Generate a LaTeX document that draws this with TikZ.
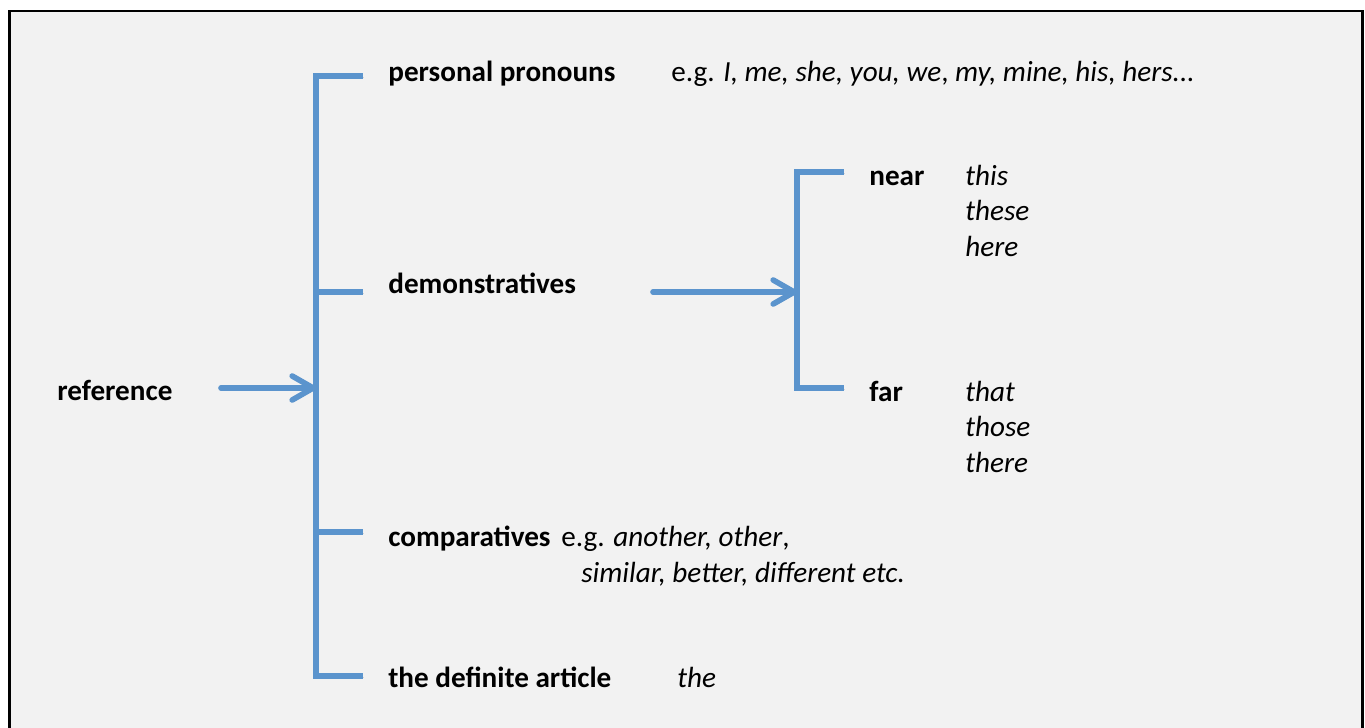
\documentclass[tikz,border=0pt]{standalone}
\usepackage{fontspec}
\setmainfont{Carlito}
\usetikzlibrary{arrows.meta}
\definecolor{bracketblue}{RGB}{91,148,205}
\definecolor{panel}{RGB}{242,242,242}
\newcommand{\diagfont}{\fontsize{16.6}{20}\selectfont}

\begin{document}
\begin{tikzpicture}[x=0.02cm,y=-0.02cm,
    shade line/.style={preaction={draw=black,opacity=0.12,transform canvas={shift={(0.7pt,-1pt)}}}},
    bracket/.style={shade line,bracketblue,line width=3.2pt,line join=miter},
    pointer/.style={shade line,bracketblue,line width=3.2pt,line cap=round,-{Straight Barb[length=4.2mm,width=4.8mm,round]}},
    term/.style={anchor=base west,inner sep=0pt,font=\diagfont\bfseries},
    plain/.style={anchor=base west,inner sep=0pt,font=\diagfont},
    ex/.style={anchor=base west,inner sep=0pt,font=\diagfont\itshape}]
    \useasboundingbox (0,0) rectangle (1365,727);

    % Panel
    \fill[panel,draw=black,line width=1.7pt] (9.5,11) rectangle (1362,760);

    % Left column
    \node[term] (reference) at (57,400) {reference};
    \coordinate (refout) at (221,388);
    \coordinate (mainin) at (316,388);

    % Main bracket
    \draw[bracket] (363,76) -- (316,76) -- (316,676) -- (363,676);
    \draw[bracket] (316,292) -- (363,292);
    \draw[bracket] (316,532) -- (363,532);
    \draw[pointer] (refout) -- (mainin);

    % Kinds of reference
    \node[term] (personal) at (388,81) {personal pronouns};
    \node[plain] (personalex) at (671,81) {e.g. \textit{I, me, she, you, we}, \textit{my, mine, his, hers...}};
    \node[term] (demo) at (388,293) {demonstratives};
    \node[term] (comp) at (388,546) {comparatives};
    \node[plain] (compex) at (561,546) {e.g. \textit{another, other},};
    \node[ex] (compex2) at (581,582) {similar, better, different etc.};
    \node[term] (definite) at (388,687) {the definite article};
    \node[ex] (definiteex) at (677,687) {the};

    % Demonstratives bracket
    \coordinate (demoout) at (653,292);
    \coordinate (subin) at (797,292);
    \draw[bracket] (844,172) -- (797,172) -- (797,388) -- (844,388);
    \draw[pointer] (demoout) -- (subin);

    % Near
    \node[term] (near) at (869,185) {near};
    \node[ex] (near1) at (965,185) {this};
    \node[ex] (near2) at (965,220) {these};
    \node[ex] (near3) at (965,256) {here};

    % Far
    \node[term] (far) at (869,401) {far};
    \node[ex] (far1) at (965,401) {that};
    \node[ex] (far2) at (965,436) {those};
    \node[ex] (far3) at (965,472) {there};
\end{tikzpicture}
\end{document}
